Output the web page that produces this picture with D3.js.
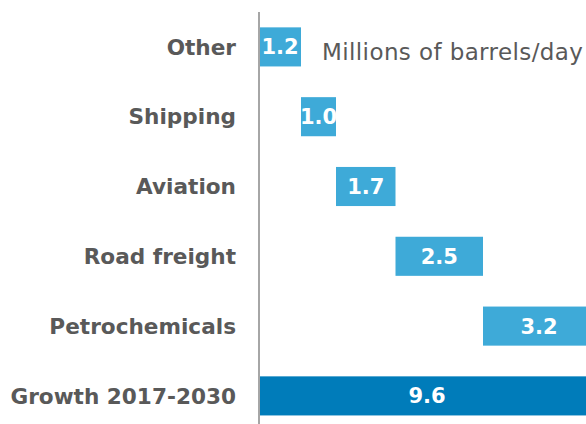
<!DOCTYPE html>
<html>
<head>
<meta charset="utf-8">
<script src="https://cdn.jsdelivr.net/npm/d3@7"></script>
<style>
  body { margin: 0; background: #fff; }
  svg { display: block; font-family: "DejaVu Sans", sans-serif; }
</style>
</head>
<body>
<svg id="chart"></svg>
<script>
(function (d3) {
    'use strict';

    var categories = ['Other', 'Shipping', 'Aviation', 'Road freight', 'Petrochemicals', 'Growth 2017-2030'];
    var values = [1.2, 1.0, 1.7, 2.5, 3.2, 9.6];
    var isTotal = [false, false, false, false, false, true];
    var unitLabel = 'Millions of barrels/day';

    var width = 586,
        height = 424,
        margin = { top: 12, left: 259 };

    // waterfall: each step starts where the previous one ended, total starts at 0
    var rows = [], run = 0;
    categories.forEach(function (c, i) {
        var start = isTotal[i] ? 0 : run;
        rows.push({ name: c, value: values[i], start: start, end: start + values[i], total: isTotal[i] });
        if (!isTotal[i]) run += values[i];
    });

    var x = d3.scaleLinear().domain([0, 9.6]).range([margin.left, margin.left + 336]);
    var y = d3.scaleBand().domain(categories).range([margin.top, 12 + 6 * 69.8]).paddingInner(0.44).paddingOuter(0.22);

    var svg = d3.select('#chart')
        .attr('width', width)
        .attr('height', height);

    svg.selectAll('.bar')
        .data(rows)
        .enter()
        .append('rect')
        .attr('class', 'bar')
        .attr('x', function (d) { return x(d.start); })
        .attr('y', function (d) { return y(d.name); })
        .attr('width', function (d) { return x(d.end) - x(d.start); })
        .attr('height', y.bandwidth())
        .attr('fill', function (d) { return d.total ? '#007cba' : '#3eaad8'; });

    svg.selectAll('.value')
        .data(rows)
        .enter()
        .append('text')
        .attr('class', 'value')
        .attr('x', function (d) { return (x(d.start) + x(d.end)) / 2; })
        .attr('y', function (d) { return y(d.name) + y.bandwidth() / 2; })
        .attr('dy', '0.36em')
        .style('text-anchor', 'middle')
        .style('font-size', '21px')
        .style('font-weight', 'bold')
        .style('fill', '#fff')
        .text(function (d) { return d3.format('.1f')(d.value); });

    svg.selectAll('.cat')
        .data(rows)
        .enter()
        .append('text')
        .attr('class', 'cat')
        .attr('x', 236)
        .attr('y', function (d) { return y(d.name) + y.bandwidth() / 2; })
        .attr('dy', '0.36em')
        .style('text-anchor', 'end')
        .style('font-size', '21.6px')
        .style('font-weight', 'bold')
        .style('fill', '#595959')
        .text(function (d) { return d.name; });

    svg.append('line')
        .attr('x1', x(0)).attr('x2', x(0))
        .attr('y1', margin.top).attr('y2', height)
        .style('stroke', '#a6a6a6')
        .style('stroke-width', 2);

    svg.append('text')
        .attr('x', 322)
        .attr('y', 60)
        .style('font-size', '23px')
        .style('letter-spacing', '0.4px')
        .style('fill', '#595959')
        .text(unitLabel);

})(window.d3);
</script>
</body>
</html>
